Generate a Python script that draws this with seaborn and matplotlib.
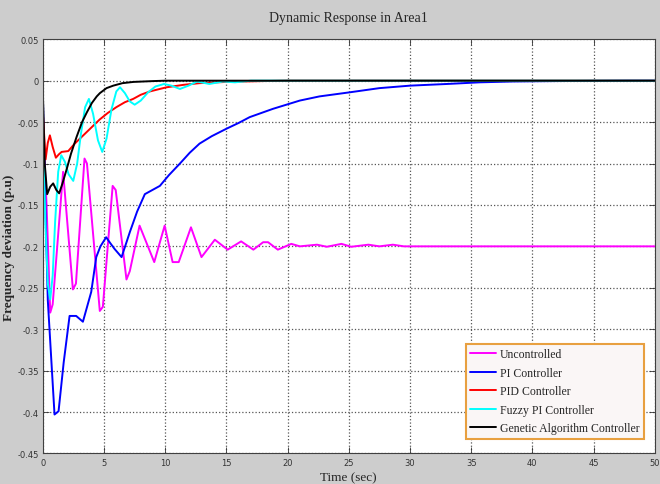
import matplotlib
matplotlib.use("Agg")
import matplotlib.pyplot as plt
import seaborn as sns
import pandas as pd

# ---- data ----
t_unc = [0, 0.3, 0.6, 0.8, 1.65, 2.45, 2.7, 3.4, 3.6, 4.65, 4.9, 5.7, 5.95, 6.83, 7.1,
         7.9, 9.1, 9.95, 10.6, 11.1, 12.1, 12.96, 14.05, 15.1, 16.2, 17.2, 18.0, 18.4,
         19.2, 20.3, 21.0, 22.4, 23.2, 24.4, 25.2, 26.6, 27.5, 28.6, 29.5, 50]
y_unc = [-0.05, -0.15, -0.28, -0.27, -0.11, -0.252, -0.245, -0.094, -0.10, -0.278, -0.273,
         -0.127, -0.132, -0.24, -0.23, -0.175, -0.219, -0.175, -0.219, -0.219, -0.177,
         -0.213, -0.192, -0.204, -0.194, -0.204, -0.195, -0.195, -0.204, -0.197, -0.200,
         -0.198, -0.2005, -0.197, -0.2005, -0.198, -0.200, -0.198, -0.200, -0.200]

t_pi = [0, 0.2, 0.4, 0.95, 1.28, 1.7, 2.18, 2.72, 3.27, 3.95, 4.36, 4.7, 5.17, 5.5, 5.85,
        6.43, 7.1, 7.7, 8.33, 9.56, 10.3, 11.2, 12.0, 12.8, 13.8, 15.0, 16.0, 16.9, 18.8,
        21.0, 22.6, 25.1, 27.5, 30.0, 33.0, 35.7, 38.4, 42.0, 47.8, 50]
y_pi = [-0.02, -0.15, -0.265, -0.403, -0.399, -0.34, -0.284, -0.284, -0.291, -0.255,
        -0.213, -0.200, -0.189, -0.196, -0.203, -0.213, -0.183, -0.158, -0.137, -0.127,
        -0.114, -0.100, -0.087, -0.076, -0.067, -0.058, -0.051, -0.044, -0.034, -0.024,
        -0.019, -0.014, -0.009, -0.006, -0.004, -0.002, -0.001, -0.0005, 0.0, 0.0]

t_pid = [0, 0.22, 0.4, 0.57, 0.8, 1.06, 1.3, 1.53, 2.07, 2.6, 3.3, 4.0, 4.63, 5.3, 6.0,
         6.7, 7.38, 8.0, 8.74, 10.1, 11.5, 12.8, 15.0, 18.0, 20.0, 50]
y_pid = [-0.040, -0.095, -0.075, -0.066, -0.080, -0.093, -0.089, -0.086, -0.085, -0.076,
         -0.066, -0.056, -0.047, -0.039, -0.032, -0.026, -0.022, -0.017, -0.013, -0.008,
         -0.005, -0.003, -0.0015, -0.0005, 0.0, 0.0]

t_fz = [0, 0.2, 0.4, 0.6, 0.8, 1.0, 1.25, 1.5, 1.8, 2.1, 2.48, 2.8, 3.1, 3.45, 3.76, 4.1,
        4.5, 4.85, 5.2, 5.6, 6.0, 6.3, 6.7, 7.1, 7.5, 8.0, 8.6, 9.2, 9.9, 10.5, 11.2, 11.9,
        12.6, 13.6, 14.7, 15.7, 17.0, 20.0, 50]
y_fz = [-0.06, -0.17, -0.245, -0.264, -0.235, -0.17, -0.11, -0.090, -0.098, -0.113, -0.121,
        -0.10, -0.065, -0.032, -0.022, -0.040, -0.072, -0.086, -0.070, -0.035, -0.013,
        -0.008, -0.015, -0.025, -0.029, -0.024, -0.014, -0.007, -0.004, -0.006, -0.010,
        -0.006, -0.001, -0.004, -0.001, -0.002, 0.0, 0.0, 0.0]

t_ga = [0, 0.15, 0.35, 0.6, 0.84, 1.1, 1.33, 1.6, 1.94, 2.3, 2.75, 3.2, 3.6, 4.0, 4.4,
        4.66, 5.2, 5.75, 6.5, 7.4, 9.0, 10.0, 50]
y_ga = [-0.016, -0.10, -0.137, -0.128, -0.124, -0.132, -0.136, -0.124, -0.107, -0.088,
        -0.068, -0.050, -0.038, -0.027, -0.019, -0.015, -0.009, -0.006, -0.003, -0.0015,
        -0.0005, 0.0, 0.0]

labels = ["Uncontrolled", "PI Controller", "PID Controller", "Fuzzy PI Controller",
          "Genetic Algorithm Controller"]
colors = ["#ff00ff", "#0000ff", "#ff0000", "#00ffff", "#000000"]

x_ticks = [0, 5, 10, 15, 20, 25, 30, 35, 40, 45, 50]
y_ticks = [0.05, 0, -0.05, -0.1, -0.15, -0.2, -0.25, -0.3, -0.35, -0.4, -0.45]
y_tick_labels = ["0.05", "0", "-0.05", "-0.1", "-0.15", "-0.2", "-0.25", "-0.3",
                 "-0.35", "-0.4", "-0.45"]

# ---- plotting ----
sns.set_style("white")
serif = ["Liberation Serif", "DejaVu Serif"]
narrow = ["Liberation Sans Narrow", "DejaVu Sans"]

fig = plt.figure(figsize=(6.6, 4.85), dpi=100)
fig.patch.set_facecolor("#cdcdcd")
ax = fig.add_axes([0.065, 0.063, 0.927, 0.854])
ax.set_facecolor("white")

series = [(t_unc, y_unc), (t_pi, y_pi), (t_pid, y_pid), (t_fz, y_fz), (t_ga, y_ga)]
for (t, y), lab, col in zip(series, labels, colors):
    df = pd.DataFrame({"t": t, "y": y})
    sns.lineplot(data=df, x="t", y="y", ax=ax, color=col, linewidth=1.4,
                 label=lab, sort=False, estimator=None)

ax.set_xlim(0, 50)
ax.set_ylim(-0.45, 0.05)
ax.set_xticks(x_ticks)
ax.set_xticklabels([str(v) for v in x_ticks], family=narrow, fontsize=6)
ax.set_yticks(y_ticks)
ax.set_yticklabels(y_tick_labels, family=narrow, fontsize=6)
ax.tick_params(direction="in", length=4, width=0.6, top=True, right=True,
               bottom=True, left=True, pad=3, colors="#333333")
ax.grid(True, linestyle=":", color="#555555", linewidth=0.9)
for s in ax.spines.values():
    s.set_color("#404040")
    s.set_linewidth(0.8)

ax.set_title("Dynamic Response in Area1", family=serif, fontsize=10, pad=13)
ax.set_xlabel("Time (sec)", family=serif, fontsize=9.5)
ax.xaxis.set_label_coords(0.5, -0.042)
ax.set_ylabel("Frequency deviation (p.u)", family=serif, fontsize=9.5,
              fontweight="bold")
ax.yaxis.set_label_coords(-0.045, 0.5)

leg = ax.legend(loc="lower right", bbox_to_anchor=(0.983, 0.035), frameon=True,
                fancybox=False, prop={"family": serif, "size": 8.5},
                handlelength=2.2, handletextpad=0.3, labelspacing=0.55,
                borderpad=0.4, borderaxespad=0)
leg.get_frame().set_edgecolor("#e8a040")
leg.get_frame().set_linewidth(1.5)
leg.get_frame().set_facecolor("#faf6f6")
leg.get_frame().set_alpha(1)

fig.savefig("out.png", dpi=100, facecolor=fig.get_facecolor())
